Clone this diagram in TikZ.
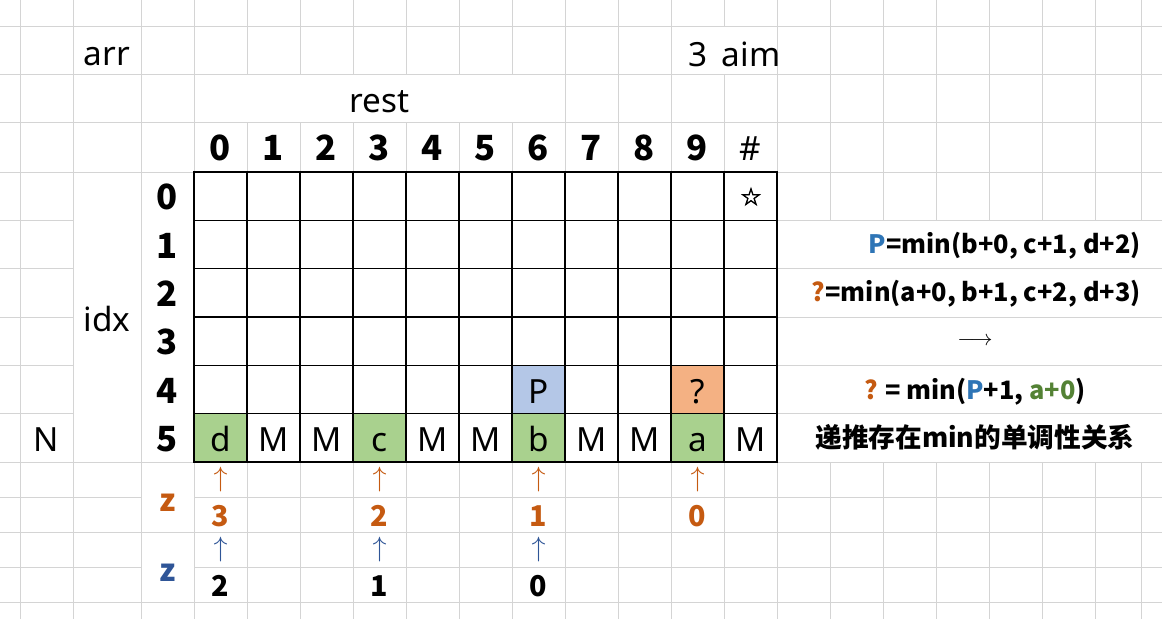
\RequirePackage{fix-cm}
\documentclass[tikz,border=0pt]{standalone}
\usepackage{fontspec}
\setmainfont{Noto Sans}
\newfontfamily\cjk{Noto Sans CJK SC}
\newfontfamily\starfont[FakeBold=2.5]{DejaVu Sans}
\definecolor{gridgray}{HTML}{D4D4D4}
\definecolor{greenfill}{HTML}{A9D18E}
\definecolor{bluefill}{HTML}{B4C7E7}
\definecolor{orangefill}{HTML}{F4B183}
\definecolor{orangetxt}{HTML}{C55A11}
\definecolor{darkbluetxt}{HTML}{2F5597}
\definecolor{bluetxt}{HTML}{2E75B6}
\definecolor{greentxt}{HTML}{548235}
\begin{document}
\begin{tikzpicture}[x=0.75pt,y=-0.75pt,
  gridline/.style={draw=gridgray, line width=0.75pt},
  tabline/.style={draw=black, line width=0.8pt},
  tabborder/.style={draw=black, line width=1.6pt},
  reg/.style={inner sep=0pt, anchor=base, font=\fontsize{25}{25}\selectfont},
  hdr/.style={inner sep=0pt, anchor=base, font=\cjk\bfseries\fontsize{26}{26}\selectfont},
  small/.style={inner sep=0pt, anchor=base, font=\cjk\bfseries\fontsize{21.5}{21.5}\selectfont},
  zlab/.style={inner sep=0pt, anchor=base, font=\cjk\bfseries\fontsize{23}{23}\selectfont},
  uparr/.style={inner sep=0pt, anchor=center, font=\fontsize{21}{21}\selectfont},
  formula/.style={inner sep=0pt, font=\cjk\bfseries\fontsize{19}{19}\selectfont}]
\useasboundingbox (0,0) rectangle (1162,619);
\fill[white] (0,0) rectangle (1162,619);
% background grid: vertical lines
\foreach \x in {20,73,141,194,565,618,671,777}
  \draw[gridline] (\x,0) -- (\x,619);
\foreach \x in {247,300,353,406,459,512}
  {\draw[gridline] (\x,0) -- (\x,74); \draw[gridline] (\x,122) -- (\x,619);}
\draw[gridline] (724,0) -- (724,26) (724,74) -- (724,619);
\foreach \x in {830,883,936,989,1042,1095,1141}
  {\draw[gridline] (\x,0) -- (\x,220.33); \draw[gridline] (\x,462) -- (\x,619);}
% background grid: horizontal lines
\foreach \y in {26,74,122,172,462,532,602}
  \draw[gridline] (0,\y) -- (1162,\y);
\foreach \y in {220.33,268.67,317,365.33,413.67}
  {\draw[gridline] (0,\y) -- (73,\y); \draw[gridline] (194,\y) -- (1162,\y);}
\foreach \y in {497,567}
  {\draw[gridline] (0,\y) -- (141,\y); \draw[gridline] (194,\y) -- (1162,\y);}
% coloured cells
\foreach \x in {194,353,512,671}
  \fill[greenfill] (\x,413.67) rectangle ({\x+53},462);
\fill[bluefill] (512,365.33) rectangle (565,413.67);
\fill[orangefill] (671,365.33) rectangle (724,413.67);
% table lines
\foreach \i in {1,...,5}
  \draw[tabline] (194,{172+48.333*\i}) -- (777,{172+48.333*\i});
\foreach \j in {1,...,10}
  \draw[tabline] ({194+53*\j},172) -- ({194+53*\j},462);
\draw[tabborder] (194,172) rectangle (777,462);
% top labels
\node[reg] (arr) at (107,65.5) {arr};
\node[reg] (three) at (698,66) {3};
\node[reg] (aim) at (751,66) {aim};
\node[reg] (rest) at (379.5,112.3) {rest};
\node[reg] (idx) at (107,331) {idx};
\node[reg] (N) at (46.5,451.7) {N};
% column headers
\foreach \j in {0,...,9}
  \node[hdr] (h\j) at ({220.5+53*\j},160.7) {\j};
\node[reg] (hh) at (750.5,160.7) {\#};
% row labels
\foreach \i in {0,...,5}
  \node[hdr] (r\i) at (167.5,{209.8+48.333*\i}) {\i};
% row 5 contents
\foreach \t [count=\k from 0] in {d,M,M,c,M,M,b,M,M,a,M}
  \node[reg] (c\k) at ({220.5+53*\k},451.7) {\t};
\node[reg] (P) at (538.5,403) {P};
\node[reg] (Q) at (697.5,403) {?};
\node[inner sep=0pt, font=\starfont\fontsize{18}{18}\selectfont] (star) at (751,196.5) {☆};
% arrows and numbers below
\foreach \x/\n [count=\k] in {220.5/3,379.5/2,538.5/1,697.5/0}
  {\node[uparr, text=orangetxt] (oa\k) at (\x,479.5) {$\uparrow$};
   \node[small, text=orangetxt] (on\k) at (\x,526.7) {\n};}
\foreach \x/\n [count=\k] in {220.5/2,379.5/1,538.5/0}
  {\node[uparr, text=darkbluetxt] (ba\k) at (\x,549.5) {$\uparrow$};
   \node[small] (bn\k) at (\x,596.7) {\n};}
\node[zlab, text=orangetxt] (zo) at (167.5,511) {z};
\node[zlab, text=darkbluetxt] (zb) at (167.5,581.7) {z};
% formulas
\node[formula, anchor=base east] (f1) at (1141,253.3) {\textcolor{bluetxt}{P}=min(b+0, c+1, d+2)};
\node[formula, anchor=base east] (f2) at (1141,301.7) {\textcolor{orangetxt}{?}=min(a+0, b+1, c+2, d+3)};
\node[inner sep=0pt, anchor=center, font=\fontsize{16.5}{16.5}\selectfont] (to) at (975,341.7) {$\longrightarrow$};
\node[formula, anchor=base] (f3) at (975,399.3) {\textcolor{orangetxt}{?} = min(\textcolor{bluetxt}{P}+1, \textcolor{greentxt}{a+0})};
\node[inner sep=0pt, anchor=base, font=\cjk\bfseries\fontsize{20}{20}\selectfont] (f4) at (975,447) {递推存在min的单调性关系};
\end{tikzpicture}
\end{document}
